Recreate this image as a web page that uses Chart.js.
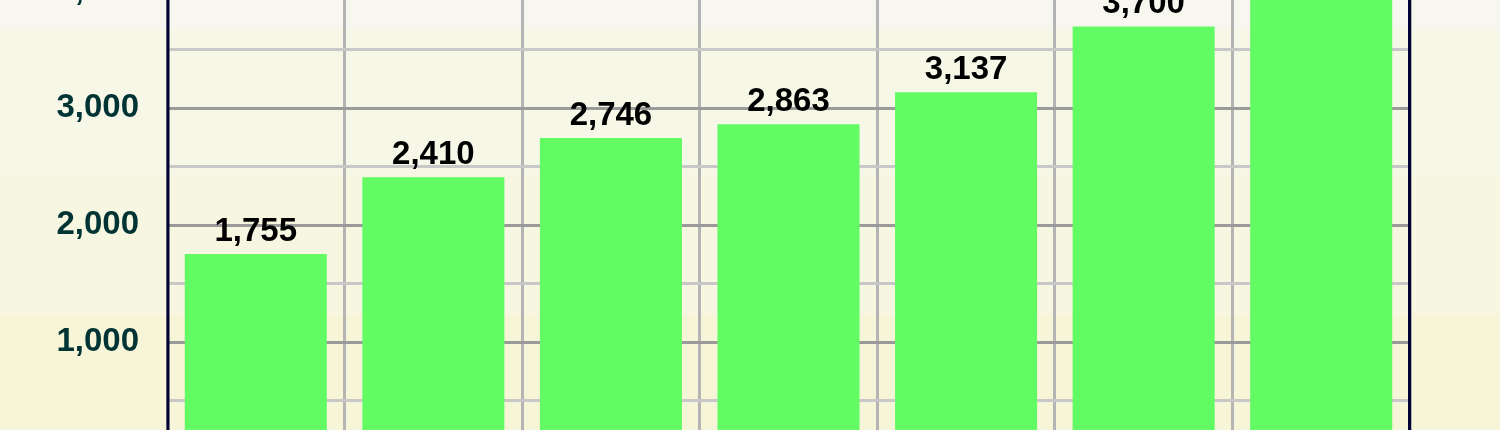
<!DOCTYPE html>
<html>
<head>
<meta charset="utf-8">
<script src="https://cdn.jsdelivr.net/npm/chart.js@4/dist/chart.umd.min.js"></script>
<style>
  html, body { margin: 0; padding: 0; width: 1500px; height: 430px; overflow: hidden; }
  body {
    position: relative;
    background: linear-gradient(to bottom,
      #f7f7ef 0px, #f7f7ef 30px,
      #f7f7e8 30px, #f7f7e8 175px,
      #f7f6e0 175px, #f7f6e0 315px,
      #f7f5d8 315px, #f7f5d8 430px);
  }
  /* the reference is a crop of a taller chart, so the canvas sticks out above and below */
  #wrap { position: absolute; left: 0; top: -115px; width: 1500px; height: 622px; }
</style>
</head>
<body>
<div id="wrap"><canvas id="chart"></canvas></div>
<script>
// data (last bar runs past the top, its label is cut off)
const categories = ['1', '2', '3', '4', '5', '6', '7'];
const values = [1755, 2410, 2746, 2863, 3137, 3700, 4300];
const yTicks = [0, 1000, 2000, 3000, 4000];

const labelFont = 'bold 33px "Liberation Sans", Arial, sans-serif';

// value labels above each bar
const barLabels = {
  id: 'barLabels',
  afterDatasetsDraw(chart) {
    const ctx = chart.ctx;
    const meta = chart.getDatasetMeta(0);
    ctx.save();
    ctx.font = labelFont;
    ctx.fillStyle = '#000000';
    ctx.textAlign = 'center';
    ctx.textBaseline = 'alphabetic';
    meta.data.forEach((bar, i) => {
      ctx.fillText(values[i].toLocaleString('en-US'), bar.x, bar.y - 13);
    });
    ctx.restore();
  }
};

// dark frame lines left and right of the plot
const plotFrame = {
  id: 'plotFrame',
  afterDraw(chart) {
    const { left, right, top, bottom } = chart.chartArea;
    const ctx = chart.ctx;
    ctx.save();
    ctx.strokeStyle = '#000033';
    ctx.lineWidth = 3;
    ctx.beginPath();
    ctx.moveTo(left + 1, top); ctx.lineTo(left + 1, bottom);
    ctx.moveTo(right - 0.5, top); ctx.lineTo(right - 0.5, bottom);
    ctx.stroke();
    ctx.restore();
  }
};

const ctx = document.getElementById('chart').getContext('2d');
new Chart(ctx, {
  type: 'bar',
  data: {
    labels: categories,
    datasets: [{
      data: values,
      backgroundColor: '#63fb63',
      borderWidth: 0,
      categoryPercentage: 1.0,
      barPercentage: 0.8
    }]
  },
  options: {
    responsive: true,
    maintainAspectRatio: false,
    animation: false,
    layout: { padding: { left: 0, right: 90, top: 32, bottom: 22 } },
    plugins: {
      legend: { display: false },
      tooltip: { enabled: false }
    },
    scales: {
      x: {
        grid: { color: '#b4b4b4', lineWidth: 3, drawTicks: false },
        border: { display: false },
        ticks: { display: false }
      },
      y: {
        min: 0,
        max: 4500,
        afterFit(scale) { scale.width = 167; },
        afterBuildTicks(scale) {
          const t = [];
          for (let v = 0; v <= 4500; v += 500) t.push({ value: v });
          scale.ticks = t;
        },
        grid: {
          drawTicks: false,
          lineWidth: 3,
          color: (c) => (c.tick && c.tick.value % 1000 === 0) ? '#9a9a9a' : '#c8c8c8'
        },
        border: { display: false },
        ticks: {
          padding: 28,
          color: '#003333',
          font: { family: '"Liberation Sans", Arial, sans-serif', size: 33, weight: 'bold' },
          callback: (v) => yTicks.includes(v) ? v.toLocaleString('en-US') : ''
        }
      }
    }
  },
  plugins: [barLabels, plotFrame]
});
</script>
</body>
</html>
